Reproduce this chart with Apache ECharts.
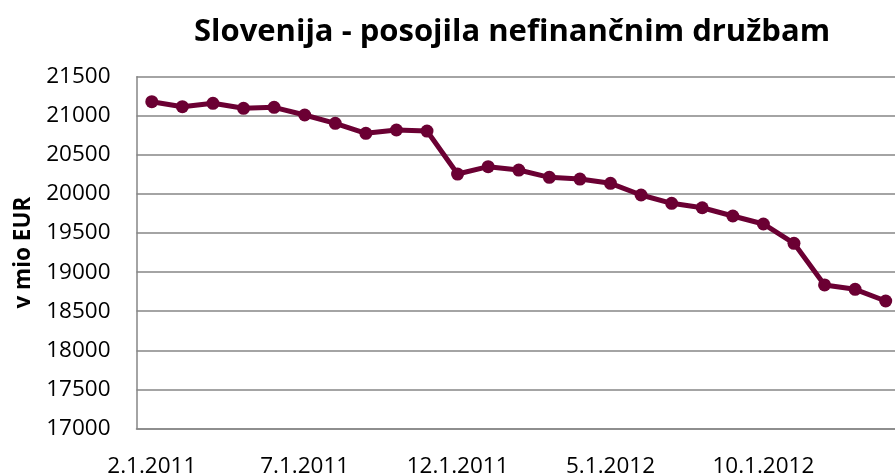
<!DOCTYPE html>
<html>
<head>
<meta charset="utf-8">
<script src="https://cdn.jsdelivr.net/npm/echarts@6/dist/echarts.min.js"></script>
<style>html,body{margin:0;padding:0;background:#fff}#c{width:895px;height:473px}</style>
</head>
<body>
<div id="c"></div>
<script>
const titleText = 'Slovenija - posojila nefinančnim družbam';
const yAxisName = 'v mio EUR';
const categories = ['2.1.2011','3.1.2011','4.1.2011','5.1.2011','6.1.2011','7.1.2011','8.1.2011','9.1.2011','10.1.2011','11.1.2011','12.1.2011','1.1.2012','2.1.2012','3.1.2012','4.1.2012','5.1.2012','6.1.2012','7.1.2012','8.1.2012','9.1.2012','10.1.2012','11.1.2012','12.1.2012','1.1.2013','2.1.2013'];
const loans = [21180,21116,21160,21096,21108,21010,20904,20776,20818,20805,20255,20349,20306,20213,20191,20136,19987,19880,19824,19718,19616,19369,18836,18780,18631];
const yMin = 17000, yMax = 21500, yStep = 500;

const chart = echarts.init(document.getElementById('c'));
chart.setOption({
  animation: false,
  title: {
    text: titleText, left: 507, top: 12, textAlign: 'center',
    textStyle: { fontFamily: 'Open Sans', fontWeight: 'bold', fontSize: 31, color: '#000' }
  },
  grid: { left: 136.5, right: -6, top: 76.7, bottom: 44.5, containLabel: false, outerBoundsMode: 'none' },
  xAxis: {
    type: 'category', data: categories, boundaryGap: true,
    axisLine: { lineStyle: { color: '#868686', width: 1.5 } },
    axisTick: { show: false },
    axisLabel: { interval: 4, margin: 27, fontFamily: 'Open Sans', fontSize: 22.5, color: '#000' },
    splitLine: { show: false }
  },
  yAxis: {
    type: 'value', min: yMin, max: yMax, interval: yStep,
    name: yAxisName, nameLocation: 'middle', nameGap: 94, nameRotate: 90,
    nameTextStyle: { fontFamily: 'Open Sans', fontWeight: 'bold', fontSize: 22.5, color: '#000' },
    axisLine: { show: true, lineStyle: { color: '#868686', width: 1.5 } },
    axisTick: { show: false },
    axisLabel: { margin: 26, fontFamily: 'Open Sans', fontSize: 22.5, color: '#000', formatter: v => String(v) },
    splitLine: { lineStyle: { color: '#868686', width: 1.5 } }
  },
  series: [{
    type: 'line', data: loans,
    symbol: 'circle', symbolSize: 13,
    lineStyle: { color: '#6B0033', width: 5 },
    itemStyle: { color: '#6B0033' }
  }]
});
</script>
</body>
</html>
